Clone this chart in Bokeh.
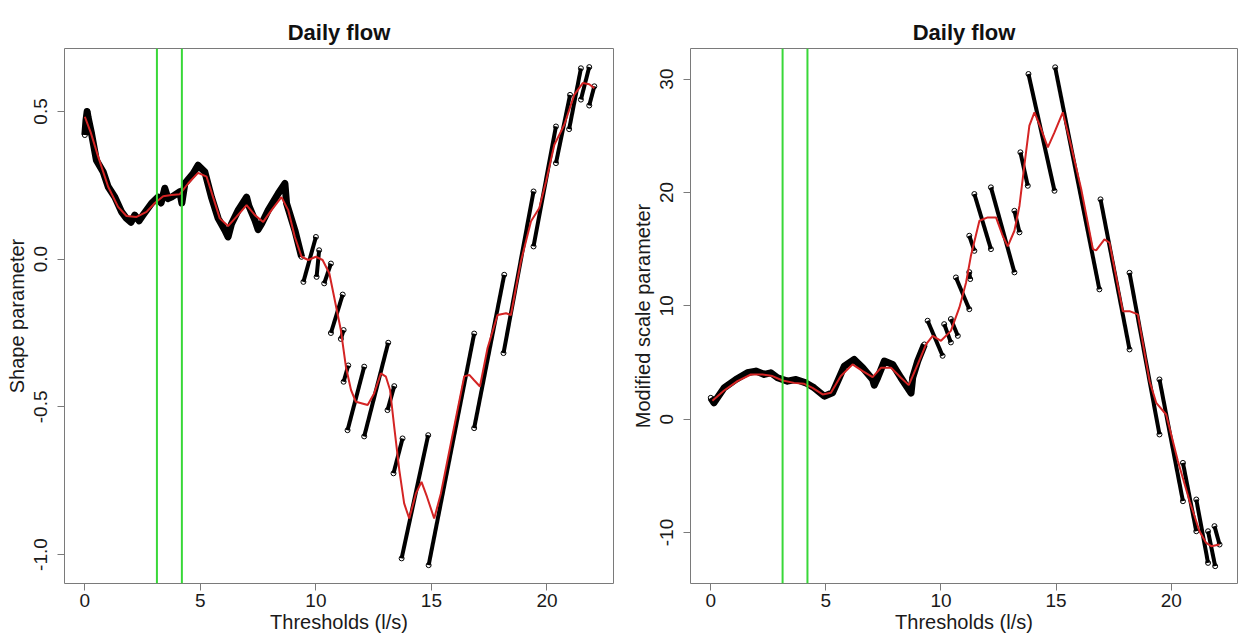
from bokeh.plotting import figure
from bokeh.layouts import row
from bokeh.models import Range1d, FixedTicker, Span
from bokeh.embed import file_html
from bokeh.resources import INLINE

# ---------------- data ----------------
panel_title = "Daily flow"
x_ticks = [0, 5, 10, 15, 20]
x_tick_labels = ["0", "5", "10", "15", "20"]
chosen_thresholds = [3.12, 4.2]

# Left panel: shape parameter
shape_y_ticks = [-1.0, -0.5, 0.0, 0.5]
shape_y_tick_labels = ["-1.0", "-0.5", "0.0", "0.5"]
# dense noisy band of estimates (low thresholds)
shape_band_x = [0.0, 0.05, 0.1, 0.14, 0.29, 0.5, 0.79, 1.01, 1.30, 1.59, 1.80, 2.0, 2.16, 2.35, 2.52,
                2.89, 3.17, 3.3, 3.46, 3.6, 3.75, 4.11, 4.2, 4.33, 4.69, 4.90, 5.19, 5.48, 5.77,
                6.06, 6.2, 6.35, 6.64, 7.0, 7.1, 7.36, 7.5, 7.65, 7.94, 8.37, 8.66, 8.73, 9.09, 9.38]
shape_band_y = [0.42, 0.47, 0.50, 0.48, 0.425, 0.335, 0.296, 0.245, 0.21, 0.16, 0.138, 0.125, 0.149, 0.13, 0.149,
                0.189, 0.21, 0.19, 0.24, 0.205, 0.21, 0.228, 0.19, 0.256, 0.29, 0.318, 0.296, 0.21, 0.138,
                0.098, 0.075, 0.12, 0.166, 0.21, 0.18, 0.132, 0.1, 0.12, 0.166, 0.222, 0.256, 0.189, 0.098, 0.008]
# straight runs of estimates (higher thresholds): start / end
shape_run_x0 = [9.46, 10.03, 10.36, 10.65, 11.08, 11.2, 11.37, 12.09, 13.1, 13.36, 13.71, 14.88,
                16.85, 18.12, 19.42, 20.39, 20.96, 21.47, 21.83]
shape_run_y0 = [-0.077, -0.06, -0.082, -0.25, -0.27, -0.415, -0.579, -0.60, -0.511, -0.725, -1.013, -1.036,
                -0.572, -0.318, 0.043, 0.325, 0.44, 0.54, 0.52]
shape_run_x1 = [10.0, 10.14, 10.65, 11.16, 11.2, 11.4, 12.09, 13.13, 13.39, 13.75, 14.86, 16.85,
                18.15, 19.42, 20.39, 21.0, 21.47, 21.83, 22.05]
shape_run_y1 = [0.075, 0.03, -0.015, -0.12, -0.24, -0.36, -0.364, -0.283, -0.43, -0.607, -0.596, -0.252,
                -0.053, 0.229, 0.449, 0.556, 0.646, 0.65, 0.585]
# smoothed curve
shape_fit_x = [0.0, 0.25, 0.58, 1.01, 1.44, 1.80, 2.24, 2.67, 3.03, 3.39, 3.75, 4.11, 4.47, 4.90, 5.27,
               5.55, 5.84, 6.20, 6.56, 7.0, 7.36, 7.72, 8.08, 8.51, 8.80, 9.09, 9.38, 9.67, 10.0, 10.29,
               10.58, 10.79, 11.08, 11.3, 11.52, 11.73, 12.24, 12.52, 12.81, 13.03, 13.21, 13.39, 13.61,
               13.82, 14.04, 14.33, 14.57, 14.81, 15.12, 15.41, 15.84, 16.42, 16.64, 16.85, 17.1, 17.43,
               17.86, 18.23, 18.44, 18.87, 19.31, 19.67, 19.96, 20.32, 20.75, 21.18, 21.55, 21.83, 22.05]
shape_fit_y = [0.482, 0.43, 0.346, 0.245, 0.177, 0.146, 0.143, 0.16, 0.19, 0.213, 0.217, 0.22, 0.256, 0.292,
               0.279, 0.21, 0.138, 0.112, 0.143, 0.183, 0.149, 0.126, 0.166, 0.21, 0.166, 0.075, 0.008,
               -0.003, 0.008, -0.003, -0.048, -0.128, -0.24, -0.365, -0.443, -0.483, -0.494, -0.455,
               -0.387, -0.398, -0.443, -0.568, -0.714, -0.827, -0.878, -0.793, -0.754, -0.805, -0.878,
               -0.793, -0.624, -0.397, -0.392, -0.41, -0.431, -0.301, -0.189, -0.183, -0.189, -0.008,
               0.128, 0.173, 0.263, 0.387, 0.455, 0.556, 0.596, 0.592, 0.579]

# Right panel: modified scale parameter
scale_y_ticks = [-10, 0, 10, 20, 30]
scale_y_tick_labels = ["-10", "0", "10", "20", "30"]
scale_band_x = [0.0, 0.14, 0.58, 1.09, 1.59, 1.96, 2.32, 2.61, 2.9, 3.33, 3.7, 4.13, 4.49, 4.93, 5.29,
                5.58, 5.8, 6.23, 6.6, 7.03, 7.1, 7.25, 7.54, 7.9, 8.26, 8.7, 8.77, 8.99, 9.28]
scale_band_y = [1.88, 1.44, 2.76, 3.5, 4.09, 4.24, 3.95, 4.09, 3.65, 3.35, 3.5, 3.2, 2.76, 2.03, 2.32,
                3.65, 4.68, 5.27, 4.53, 3.5, 3.0, 3.65, 5.12, 4.83, 3.65, 2.3, 3.65, 5.12, 6.59]
scale_run_x0 = [9.42, 10.14, 10.43, 10.65, 11.23, 11.23, 11.45, 12.17, 13.19, 13.45, 13.8, 14.96,
                16.93, 18.19, 19.49, 20.51, 21.09, 21.6, 21.88]
scale_run_y0 = [8.68, 8.38, 8.83, 12.5, 12.97, 16.18, 19.86, 20.45, 18.38, 23.54, 30.45, 31.04,
                19.39, 12.91, 3.5, -3.86, -7.09, -9.89, -9.44]
scale_run_x1 = [10.07, 10.43, 10.73, 11.23, 11.27, 11.45, 12.17, 13.19, 13.41, 13.77, 14.93, 16.88,
                18.19, 19.49, 20.51, 21.09, 21.6, 21.91, 22.1]
scale_run_y1 = [5.59, 6.77, 7.35, 9.7, 12.36, 14.85, 15.0, 12.95, 16.48, 20.59, 20.15, 11.45,
                6.15, -1.35, -7.24, -9.89, -12.68, -12.97, -11.06]
scale_fit_x = [0.07, 0.58, 1.16, 1.74, 2.25, 2.68, 3.12, 3.62, 4.06, 4.42, 4.86, 5.22, 5.65, 6.16, 6.6,
               7.03, 7.39, 7.83, 8.26, 8.6, 8.99, 9.35, 9.64, 10.0, 10.43, 10.8, 11.09, 11.3, 11.67,
               12.03, 12.39, 12.68, 12.9, 13.19, 13.41, 13.62, 13.84, 14.06, 14.35, 14.64, 14.93, 15.29,
               15.65, 16.09, 16.6, 16.74, 17.1, 17.32, 17.9, 18.19, 18.55, 19.06, 19.35, 19.78, 20.29,
               20.8, 21.23, 21.52, 21.74, 22.1]
scale_fit_y = [1.62, 2.53, 3.35, 3.94, 3.94, 3.8, 3.41, 3.2, 3.12, 2.76, 2.18, 2.32, 3.8, 4.83, 4.24,
               3.7, 4.53, 4.53, 3.65, 3.0, 4.83, 6.59, 7.35, 6.91, 7.79, 9.86, 12.06, 14.41, 17.5,
               17.8, 17.8, 16.18, 15.24, 16.62, 18.83, 22.36, 25.89, 27.07, 25.6, 23.98, 25.3, 27.07,
               24.12, 20.3, 15.0, 14.89, 15.86, 15.56, 9.53, 9.53, 9.24, 3.35, 1.44, 0.41, -3.7,
               -7.24, -9.89, -10.92, -11.21, -11.06]

FONT = "Liberation Sans"
GREY = "#7a7a7a"


def make_panel(band_x, band_y, rx0, ry0, rx1, ry1, fit_x, fit_y, y_range, y_ticks, y_labels,
               y_title, width, left, right):
    p = figure(width=width, height=638, output_backend="svg", toolbar_location=None,
               x_range=Range1d(-0.88, 22.88), y_range=Range1d(*y_range),
               min_border_left=left, min_border_right=right, min_border_top=48, min_border_bottom=55,
               title=panel_title)
    p.title.align = "center"
    p.title.vertical_align = "top"
    p.title.text_font = FONT
    p.title.text_font_size = "22px"
    p.title.text_font_style = "bold"
    p.title.text_color = "#111111"
    p.title.text_line_height = 1.8
    p.title.standoff = 4
    p.grid.visible = False
    p.outline_line_color = GREY
    p.outline_line_width = 1
    p.background_fill_color = "white"
    p.border_fill_color = "white"

    p.xaxis.ticker = FixedTicker(ticks=x_ticks)
    p.xaxis.major_label_overrides = dict(zip(x_ticks, x_tick_labels))
    p.yaxis.ticker = FixedTicker(ticks=y_ticks)
    p.yaxis.major_label_overrides = dict(zip(y_ticks, y_labels))
    p.yaxis.major_label_orientation = "vertical"
    p.xaxis.axis_label = "Thresholds (l/s)"
    p.yaxis.axis_label = y_title
    for ax in (p.xaxis, p.yaxis):
        ax.axis_line_color = None
        ax.major_tick_line_color = GREY
        ax.major_tick_out = 7
        ax.major_tick_in = 0
        ax.minor_tick_line_color = None
        ax.major_label_text_font = FONT
        ax.major_label_text_font_size = "19px"
        ax.major_label_text_color = "#1a1a1a"
        ax.axis_label_text_font = FONT
        ax.axis_label_text_font_style = "normal"
        ax.axis_label_text_color = "#1a1a1a"
        ax.axis_label_text_font_size = "20px"
    p.xaxis.major_label_standoff = 3
    p.xaxis.axis_label_standoff = 1
    p.yaxis.major_label_standoff = 10
    p.yaxis.axis_label_standoff = 4

    # estimates
    p.line(band_x, band_y, line_color="black", line_width=7, line_join="round")
    p.segment(rx0, ry0, rx1, ry1, line_color="black", line_width=4)
    p.scatter(band_x + rx0 + rx1, band_y + ry0 + ry1, marker="circle", size=5,
              fill_color=None, line_color="black", line_width=1)
    # smooth fit
    p.line(fit_x, fit_y, line_color="#d42424", line_width=2)
    # chosen thresholds
    for v in chosen_thresholds:
        p.add_layout(Span(location=v, dimension="height", line_color="#38d838", line_width=2))
    return p


p1 = make_panel(shape_band_x, shape_band_y, shape_run_x0, shape_run_y0, shape_run_x1, shape_run_y1,
                shape_fit_x, shape_fit_y, (-1.098, 0.713), shape_y_ticks, shape_y_tick_labels,
                "Shape parameter", 622, 64, 9)
p2 = make_panel(scale_band_x, scale_band_y, scale_run_x0, scale_run_y0, scale_run_x1, scale_run_y1,
                scale_fit_x, scale_fit_y, (-14.5, 32.7), scale_y_ticks, scale_y_tick_labels,
                "Modified scale parameter", 618, 68, 3)

layout = row(p1, p2)
open("out.html", "w").write(file_html(layout, INLINE))
